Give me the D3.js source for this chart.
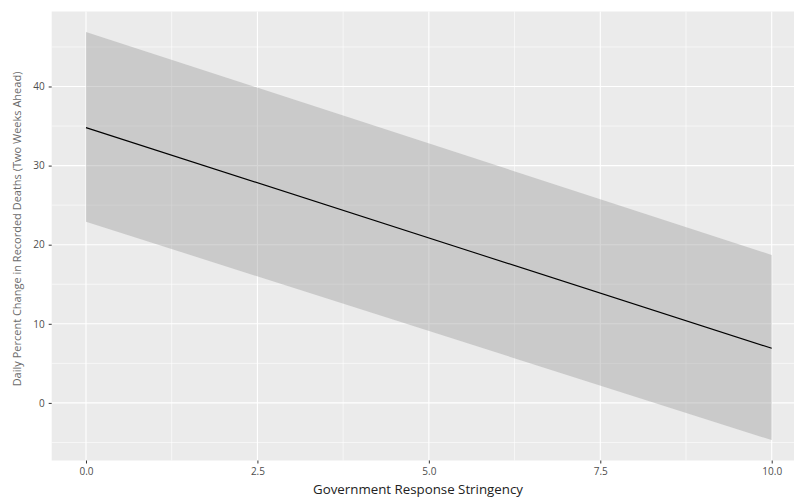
<!DOCTYPE html>
<html>
<head>
<meta charset="utf-8">
<script src="https://cdn.jsdelivr.net/npm/d3@7"></script>
<style>
  body { margin: 0; background: #fff; }
  svg { display: block; }
</style>
</head>
<body>
<div id="chart"></div>
<script>
// valores
var stringency = [0, 10];
var fitValues = [34.8, 6.9];
var lowerValues = [22.9, -4.7];
var upperValues = [46.9, 18.7];
var xTicks = [0, 2.5, 5, 7.5, 10];
var yTicks = [0, 10, 20, 30, 40];

var width = 794, height = 499;
var panelLeft = 51.7, panelTop = 11.5;

var svg = d3.select('#chart').append('svg')
	.attr('width', width)
	.attr('height', height)

// escalas con la expansion de ggplot (5%)
var x = d3.scaleLinear().domain([-0.5, 10.5]).range([panelLeft, 806])
var yMin = -4.7, yMax = 46.9, pad = (yMax - yMin) * 0.05
var y = d3.scaleLinear().domain([yMin - pad, yMax + pad]).range([460.5, panelTop])

var pw = x.range()[1] - panelLeft, ph = y.range()[0] - panelTop

// fondo del panel
svg.append('rect')
	.attr('x', panelLeft).attr('y', panelTop)
	.attr('width', pw).attr('height', ph)
	.style('fill', '#ebebeb')

var grid = svg.append('g')

// lineas menores
var xMinor = [1.25, 3.75, 6.25, 8.75]
var yMinor = [-5, 5, 15, 25, 35, 45]
grid.selectAll('.xminor').data(xMinor).enter().append('line')
	.attr('x1', function (d) { return x(d) }).attr('x2', function (d) { return x(d) })
	.attr('y1', panelTop).attr('y2', panelTop + ph)
	.style('stroke', '#fff').style('stroke-width', 0.6)
grid.selectAll('.yminor').data(yMinor).enter().append('line')
	.attr('x1', panelLeft).attr('x2', panelLeft + pw)
	.attr('y1', function (d) { return y(d) }).attr('y2', function (d) { return y(d) })
	.style('stroke', '#fff').style('stroke-width', 0.6)

// lineas mayores
grid.selectAll('.xmajor').data(xTicks).enter().append('line')
	.attr('x1', function (d) { return x(d) }).attr('x2', function (d) { return x(d) })
	.attr('y1', panelTop).attr('y2', panelTop + ph)
	.style('stroke', '#fff').style('stroke-width', 1.1)
grid.selectAll('.ymajor').data(yTicks).enter().append('line')
	.attr('x1', panelLeft).attr('x2', panelLeft + pw)
	.attr('y1', function (d) { return y(d) }).attr('y2', function (d) { return y(d) })
	.style('stroke', '#fff').style('stroke-width', 1.1)

// banda de confianza
var band = stringency.map(function (s, i) { return { x: s, lo: lowerValues[i], hi: upperValues[i] } })
var area = d3.area()
	.x(function (d) { return x(d.x) })
	.y0(function (d) { return y(d.lo) })
	.y1(function (d) { return y(d.hi) })
svg.append('path')
	.datum(band)
	.attr('d', area)
	.style('fill', '#999999')
	.style('fill-opacity', 0.4)

// recta ajustada
var fit = stringency.map(function (s, i) { return { x: s, v: fitValues[i] } })
svg.append('path')
	.datum(fit)
	.attr('d', d3.line().x(function (d) { return x(d.x) }).y(function (d) { return y(d.v) }))
	.style('fill', 'none')
	.style('stroke', '#000')
	.style('stroke-width', 1.1)

// ejes
var font = '"Open Sans", "Noto Sans", sans-serif'

var xAxis = svg.append('g')
	.attr('transform', 'translate(0,' + (panelTop + ph) + ')')
	.call(d3.axisBottom(x).tickValues(xTicks).tickFormat(d3.format('.1f')).tickSizeInner(3).tickSizeOuter(0).tickPadding(4))
xAxis.select('.domain').remove()
xAxis.selectAll('line').style('stroke', '#333')
xAxis.selectAll('text').style('fill', '#4d4d4d').style('font-family', font).style('font-size', '10px')

var yAxis = svg.append('g')
	.attr('transform', 'translate(' + panelLeft + ',0)')
	.call(d3.axisLeft(y).tickValues(yTicks).tickSizeInner(3).tickSizeOuter(0).tickPadding(4))
yAxis.select('.domain').remove()
yAxis.selectAll('line').style('stroke', '#333')
yAxis.selectAll('text').style('fill', '#4d4d4d').style('font-family', font).style('font-size', '10px')

// titulos
svg.append('text')
	.attr('x', 418).attr('y', 494)
	.attr('text-anchor', 'middle')
	.style('font-family', font).style('font-size', '13.3px').style('fill', '#222')
	.text('Government Response Stringency')

svg.append('text')
	.attr('transform', 'translate(20.5,229) rotate(-90)')
	.attr('text-anchor', 'middle')
	.style('font-family', font).style('font-size', '11px').style('fill', '#6b6b6b')
	.text('Daily Percent Change in Recorded Deaths (Two Weeks Ahead)')
</script>
</body>
</html>
